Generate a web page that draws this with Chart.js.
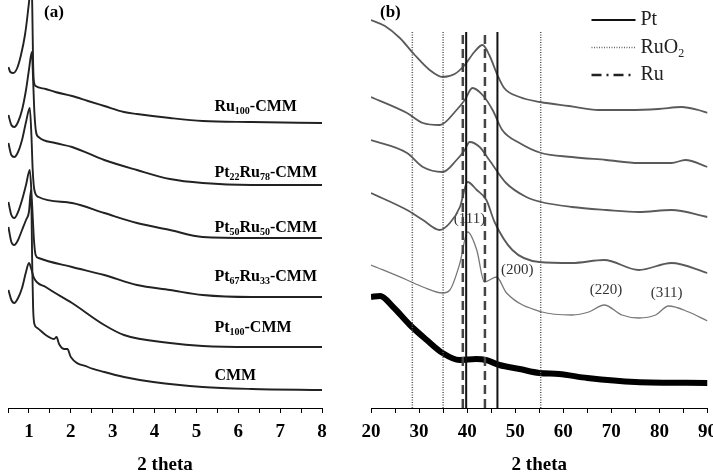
<!DOCTYPE html>
<html>
<head>
<meta charset="utf-8">
<script src="https://cdn.jsdelivr.net/npm/chart.js@4"></script>
<style>
  body { margin: 0; background: #fff; overflow: hidden; width: 713px; height: 472px; position: relative; }
  canvas { position: absolute; top: 0; }
  #chartA { left: 0; }
  #chartB { left: 350px; }
</style>
</head>
<body>
<canvas id="chartA" width="340" height="480"></canvas>
<canvas id="chartB" width="375" height="480"></canvas>
<script>
// (a) low angle, intensity a.u. with offsets
const ru100A = [[0.51,85.25],[0.555,84],[0.625,83.75],[0.72,85],[0.81,88.25],[0.905,93.25],[0.975,99],[1.02,104],[1.05,112],[1.08,100],[1.10,86],[1.12,81.5],[1.16,80.5],[1.40,79.75],[1.63,79],[2.03,78],[2.41,76.75],[2.80,75.5],[3.27,74],[3.58,73.5],[4.37,72.5],[5.15,71.75],[6.32,71.5],[8,71.25]];
const pt22ru78A = [[0.51,73.25],[0.58,70.75],[0.65,70.25],[0.74,71.5],[0.835,74.5],[0.93,79.5],[1.0,84.5],[1.07,89],[1.10,82],[1.13,74],[1.17,69],[1.23,67.75],[1.63,66.25],[2.03,65.25],[2.80,62],[3.58,59.5],[4.37,57.25],[5.15,56.25],[6.32,55.75],[8,55.75]];
const pt50ru50A = [[0.51,66.25],[0.58,63.25],[0.65,62.75],[0.74,64],[0.835,67],[0.93,71.5],[1.02,75],[1.06,68],[1.09,59.5],[1.13,54.5],[1.23,52.75],[2.03,51.25],[2.80,48.75],[3.58,46.25],[4.37,44.5],[5.15,42.75],[6.32,42.5],[8,42.5]];
const pt67ru33A = [[0.51,51.5],[0.58,48.25],[0.65,47.5],[0.74,49],[0.835,52],[0.93,55.75],[1.02,59.5],[1.07,52],[1.12,42],[1.16,38.25],[1.23,37.5],[2.03,35.25],[2.80,33.25],[3.58,30.75],[4.37,29.5],[5.15,28.25],[6.32,27.75],[8,27.75]];
const pt100A = [[0.51,29.5],[0.58,27],[0.65,26.25],[0.74,27.5],[0.835,30],[0.93,34],[1.0,36.25],[1.05,35],[1.12,32.5],[1.40,30.25],[2.03,26.25],[2.80,20.75],[3.27,18.25],[4.37,16.25],[5.15,15.5],[6.32,15.25],[8,15.25]];
const cmmA = [[0.51,45.25],[0.58,41.5],[0.65,40.75],[0.74,42],[0.835,44.5],[0.93,47],[1.0,49],[1.05,54.5],[1.08,35],[1.10,25],[1.13,21],[1.20,20],[1.40,18.25],[1.60,17.25],[1.66,17.75],[1.72,16],[1.85,14.75],[1.92,14.75],[2.0,12.75],[2.41,10.25],[2.80,9],[3.27,7.75],[3.97,6.5],[5.15,5.25],[6.32,4.75],[8,4.5]];

const sampleLabels = ['Ru_{100}-CMM', 'Pt_{22}Ru_{78}-CMM', 'Pt_{50}Ru_{50}-CMM', 'Pt_{67}Ru_{33}-CMM', 'Pt_{100}-CMM', 'CMM'];
const labelLevels = [75.25, 58.75, 45, 32.75, 20, 8];
const labelTheta = 5.43;

// (b) wide angle
const ru100B = [[20,97],[22.9,95.5],[26,92.5],[29.1,88.25],[32.2,84.5],[34.9,82.75],[37.4,83.5],[39.5,85.75],[41.5,89],[43.2,90.75],[44.6,88.25],[46.3,83.25],[47.7,80],[50.9,77.75],[55.2,76.5],[61.2,75.5],[67.4,74.5],[73.6,74.5],[79.8,74.75],[84.6,75.25],[88.1,74.5],[90,73.75]];
const pt22ru78B = [[20,77.75],[27.5,73.75],[30.8,71.25],[34.3,70.75],[37.8,74.5],[39.5,77],[41.1,80],[43.2,78.25],[45.3,74.5],[47.3,69.5],[50.9,66.25],[55.4,63.75],[61.8,62.75],[68.9,62],[75.7,61.25],[82.5,61.25],[85.4,62],[90,60.25]];
const pt50ru50B = [[20,67],[27.5,63.75],[30.8,60.25],[34.9,59],[37.8,62],[39.5,64.5],[40.5,66.5],[42.6,65.25],[44.6,62],[48.1,56.25],[52.3,52.75],[55.4,51.5],[61.8,50.25],[68.9,49.5],[75.7,49],[82.5,49.5],[90,47.75]];
const pt67ru33B = [[20,53.75],[27.5,49.5],[30.8,47],[34.3,44.5],[36.4,46.25],[38.5,50.25],[40.1,56.5],[42.0,54.5],[44.0,52],[45.7,46.5],[49.4,39.5],[55.0,36.5],[61.8,36.25],[68.5,37],[75.7,34.5],[82.5,36.25],[90,33.75]];
const pt100B = [[20,35.75],[27.5,32],[30.8,30.25],[34.9,28.75],[36.4,29.5],[38.5,36.25],[40.1,44],[42.0,39.5],[43.6,31.5],[46.1,32.75],[48.2,28.75],[55.6,24],[61.8,23.25],[65.3,24],[68.5,25.75],[72.2,23.25],[75.7,22.5],[79.2,23.25],[81.9,25.5],[86.1,24],[90,21.75]];
const cmmB = [[20,27.75],[21.9,28],[24.6,25.25],[28.1,20.75],[31.6,17],[34.9,13.75],[38.4,12],[41.9,12.25],[43.9,12],[46.7,10.75],[50.9,9.75],[55,8.75],[59.1,8.5],[65,7.5],[75,6.5],[90,6.25]];

// reference positions
const ptRefs = [39.8, 46.3];
const ruo2Refs = [28.6, 35.0, 55.3];
const ruRefs = [39.1, 43.7];
const refTop = 94;

const hklLabels = ['(111)', '(200)', '(220)', '(311)'];
const hklPos = [[40.5, 47.25], [50.4, 34.5], [68.9, 29.5], [81.5, 28.75]];

const SERIF = '"Liberation Serif", "Times New Roman", serif';

function drawRich(ctx, text, x, y, size, weight) {
  const parts = text.split(/_\{(.*?)\}/);
  let cx = x;
  parts.forEach((t, i) => {
    const sub = i % 2 === 1;
    const s = sub ? Math.round(size * 0.62) : size;
    ctx.font = `${weight} ${s}px ${SERIF}`;
    ctx.fillText(t, cx, sub ? y + size * 0.3 : y);
    cx += ctx.measureText(t).width;
  });
}

const toPts = arr => arr.map(([x, y]) => ({ x, y }));

function xAxis(min, max, step, labelEvery) {
  return {
    type: 'linear', min, max,
    afterFit: s => { s.height = 72; },
    ticks: {
      stepSize: step, autoSkip: false, maxRotation: 0, padding: 8, color: '#000',
      font: { family: SERIF, size: 19, weight: 'bold' },
      callback: v => (Math.abs(v / labelEvery - Math.round(v / labelEvery)) < 1e-6 ? v : '')
    },
    grid: { drawOnChartArea: false, tickLength: 5, color: '#000' },
    border: { color: '#000', width: 1 },
    title: { display: true, text: '2 theta', color: '#000', font: { family: SERIF, size: 19, weight: 'bold' }, padding: { top: 0, bottom: 4 } }
  };
}

const labelsA = {
  id: 'labelsA',
  afterDatasetsDraw(chart) {
    const { ctx, scales: { x, y }, chartArea } = chart;
    ctx.save();
    ctx.fillStyle = '#000';
    ctx.textBaseline = 'middle';
    ctx.font = `bold 17px ${SERIF}`;
    ctx.fillText('(a)', chartArea.left + 36, 13);
    sampleLabels.forEach((lab, i) => {
      drawRich(ctx, lab, x.getPixelForValue(labelTheta), y.getPixelForValue(labelLevels[i]), 16, 'bold');
    });
    ctx.restore();
  }
};

const seriesA = [ru100A, pt22ru78A, pt50ru50A, pt67ru33A, pt100A, cmmA];

new Chart(document.getElementById('chartA'), {
  type: 'line',
  data: {
    datasets: seriesA.map(s => ({
      data: toPts(s), borderColor: '#222', borderWidth: 1.9, pointRadius: 0,
      cubicInterpolationMode: 'monotone', fill: false
    }))
  },
  options: {
    responsive: false, animation: false,
    layout: { padding: { left: 2, right: 18, top: 0, bottom: 0 } },
    plugins: { legend: { display: false }, tooltip: { enabled: false } },
    scales: { x: xAxis(0.5, 8, 0.5, 1), y: { display: false, min: 0, max: 102 } }
  },
  plugins: [labelsA]
});

const refLine = (v, color, width, dash) => ({
  data: [{ x: v, y: 0 }, { x: v, y: refTop }], borderColor: color, borderWidth: width,
  borderDash: dash, pointRadius: 0, fill: false, tension: 0
});

const curveB = (s, color, width) => ({
  data: toPts(s), borderColor: color, borderWidth: width, pointRadius: 0,
  cubicInterpolationMode: 'monotone', fill: false
});

const decorB = {
  id: 'decorB',
  beforeDatasetsDraw(chart) {
    const { ctx, scales: { x, y } } = chart;
    ctx.save();
    ctx.fillStyle = '#333';
    ctx.textAlign = 'center';
    ctx.textBaseline = 'middle';
    ctx.font = `15px ${SERIF}`;
    hklLabels.forEach((t, i) => ctx.fillText(t, x.getPixelForValue(hklPos[i][0]), y.getPixelForValue(hklPos[i][1])));
    ctx.restore();
  },
  afterDatasetsDraw(chart) {
    const { ctx, chartArea } = chart;
    ctx.save();
    ctx.fillStyle = '#000';
    ctx.textBaseline = 'middle';
    ctx.font = `bold 17px ${SERIF}`;
    ctx.fillText('(b)', chartArea.left + 9, 13);
    const items = [
      ['Pt', '#111', 2, []],
      ['RuO_{2}', '#666', 1.5, [1, 1.5]],
      ['Ru', '#222', 2.5, [10, 5, 2, 5]]
    ];
    const x0 = chartArea.right - 116, x1 = chartArea.right - 72;
    items.forEach(([lab, col, w, dash], i) => {
      const yy = 20 + i * 27.5;
      ctx.strokeStyle = col; ctx.lineWidth = w; ctx.setLineDash(dash);
      ctx.beginPath(); ctx.moveTo(x0, yy); ctx.lineTo(x1, yy); ctx.stroke();
      ctx.fillStyle = '#222';
      drawRich(ctx, lab, x1 + 5, yy, 20, 'normal');
    });
    ctx.restore();
  }
};

new Chart(document.getElementById('chartB'), {
  type: 'line',
  data: {
    datasets: [
      ...ptRefs.map(v => refLine(v, '#111', 2, [])),
      ...ruo2Refs.map(v => refLine(v, '#555', 1.5, [1, 1.5])),
      ...ruRefs.map(v => refLine(v, '#444', 2.5, [9, 5])),
      curveB(ru100B, '#5a5a5a', 1.8),
      curveB(pt22ru78B, '#5a5a5a', 1.8),
      curveB(pt50ru50B, '#5a5a5a', 1.8),
      curveB(pt67ru33B, '#5a5a5a', 1.8),
      curveB(pt100B, '#777', 1.3),
      curveB(cmmB, '#000', 6)
    ]
  },
  options: {
    responsive: false, animation: false,
    layout: { padding: { left: 21, right: 16, top: 0, bottom: 0 } },
    plugins: { legend: { display: false }, tooltip: { enabled: false } },
    scales: { x: xAxis(20, 90, 5, 10), y: { display: false, min: 0, max: 102 } }
  },
  plugins: [decorB]
});
</script>
</body>
</html>
